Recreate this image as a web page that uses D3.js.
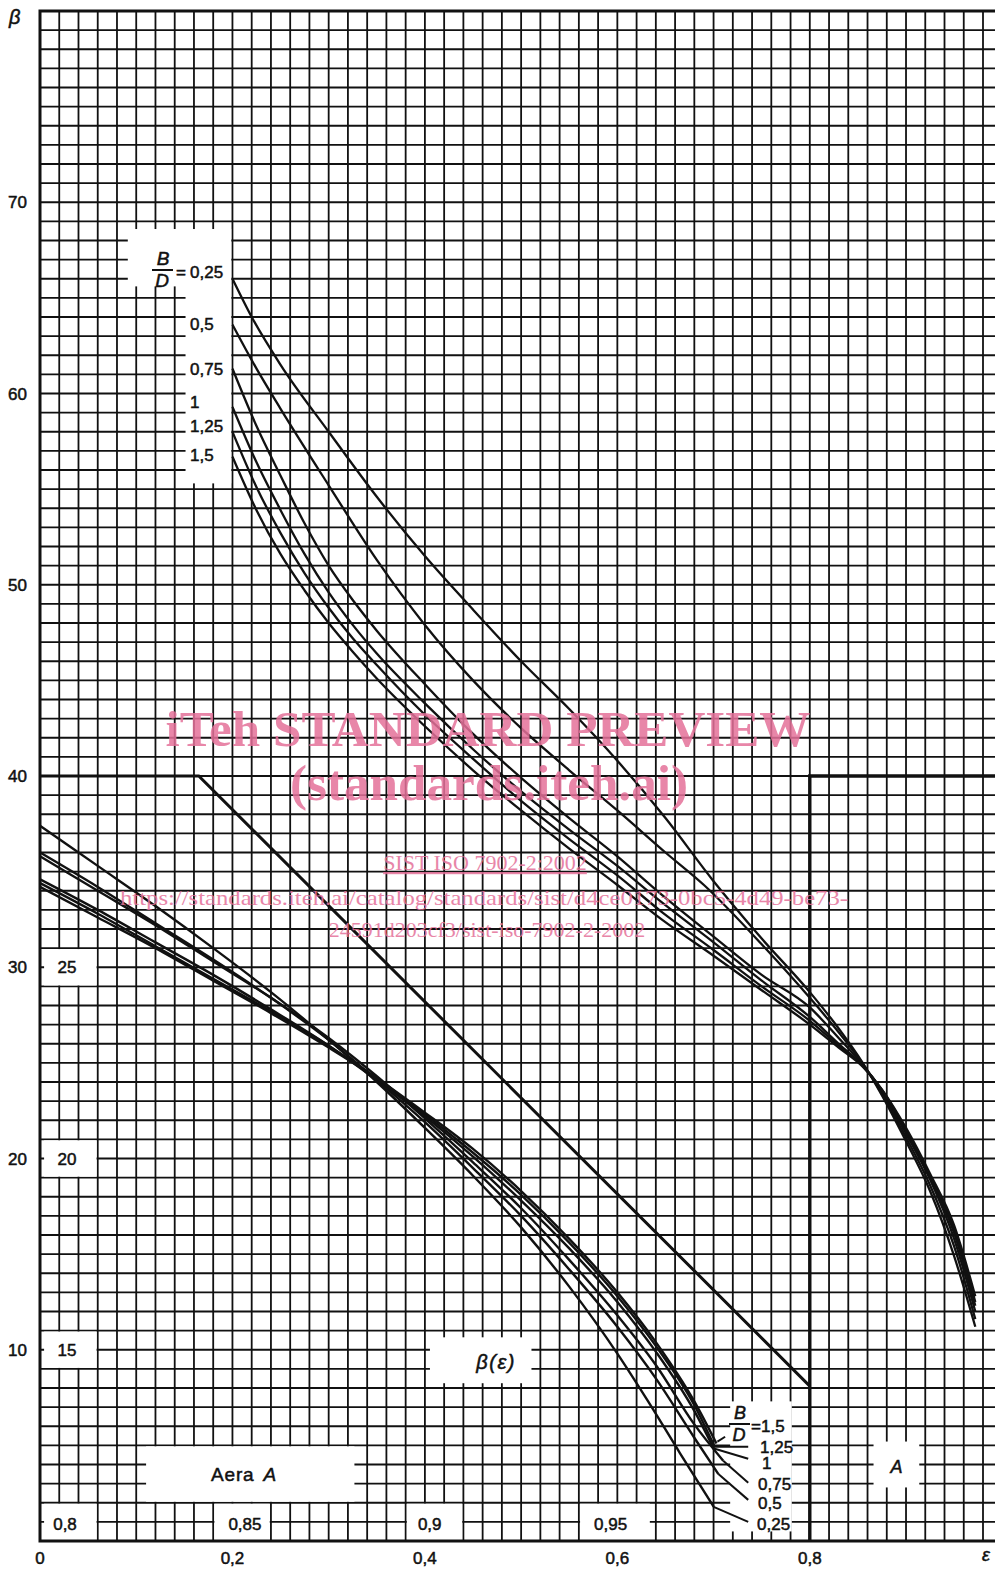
<!DOCTYPE html>
<html lang="en">
<head>
<meta charset="UTF-8">
<title>beta(epsilon)</title>
<script src="https://cdn.jsdelivr.net/npm/d3@7"></script>
<style>
  body { margin: 0; background: #fff; }
  svg { display: block; }
  text { font-family: "Liberation Sans", Arial, sans-serif; fill: #111; stroke: #111; stroke-width: 0.5; }
  text.wm { font-family: "Liberation Serif", "Times New Roman", serif; fill: #e5719a; stroke: none; }
</style>
</head>
<body>
<div id="chart"></div>
<script>
// ---- data ----
const bdLabels = ["0,25", "0,5", "0,75", "1", "1,25", "1,5"];

// beta(eps) main curves, one per B/D
const upper025 = [[0.2,66.0],[0.22,64.0],[0.25,61.5],[0.30,58.0],[0.35,54.6],[0.40,51.5],[0.45,48.7],[0.50,46.0],[0.55,43.5],[0.60,40.8],[0.65,37.8],[0.70,34.5],[0.75,31.5],[0.80,28.7],[0.83,26.8],[0.855,25.0],[0.875,23.3],[0.90,20.9],[0.925,18.3],[0.95,14.9],[0.972,11.2]];
const upper05  = [[0.2,63.6],[0.225,61.3],[0.25,59.2],[0.30,55.2],[0.35,51.3],[0.40,47.9],[0.45,45.0],[0.50,42.5],[0.55,40.3],[0.60,38.2],[0.65,36.0],[0.69,34.3],[0.75,31.2],[0.80,28.4],[0.83,26.6],[0.855,24.95],[0.875,23.4],[0.90,21.1],[0.925,18.6],[0.95,15.4],[0.972,11.6]];
const upper075 = [[0.2,61.3],[0.225,58.3],[0.25,55.7],[0.275,53.2],[0.30,51.0],[0.325,49.2],[0.35,47.6],[0.40,44.8],[0.45,42.2],[0.50,39.9],[0.55,37.8],[0.60,35.8],[0.646,33.8],[0.70,31.6],[0.75,29.6],[0.80,27.9],[0.83,26.3],[0.855,24.9],[0.875,23.5],[0.90,21.3],[0.925,18.9],[0.95,15.8],[0.972,12.0]];
const upper1   = [[0.2,59.3],[0.225,56.4],[0.25,53.9],[0.275,51.6],[0.30,49.6],[0.325,47.9],[0.35,46.4],[0.40,43.8],[0.45,41.4],[0.50,39.2],[0.55,37.2],[0.60,35.3],[0.646,33.4],[0.70,31.3],[0.75,29.3],[0.80,27.4],[0.83,26.0],[0.855,24.85],[0.875,23.55],[0.90,21.4],[0.925,19.0],[0.95,16.1],[0.972,12.3]];
const upper125 = [[0.2,58.0],[0.225,55.1],[0.25,52.7],[0.275,50.6],[0.30,48.8],[0.325,47.2],[0.35,45.8],[0.40,43.2],[0.45,40.9],[0.50,38.7],[0.55,36.7],[0.60,34.8],[0.646,32.9],[0.70,30.9],[0.75,29.0],[0.80,27.2],[0.83,25.9],[0.855,24.85],[0.875,23.6],[0.90,21.5],[0.925,19.1],[0.95,16.3],[0.972,12.5]];
const upper15  = [[0.2,56.7],[0.225,53.9],[0.25,51.6],[0.275,49.7],[0.30,48.0],[0.325,46.5],[0.35,45.1],[0.40,42.6],[0.45,40.3],[0.50,38.2],[0.55,36.2],[0.60,34.3],[0.646,32.5],[0.70,30.6],[0.75,28.8],[0.80,27.0],[0.83,25.8],[0.855,24.8],[0.875,23.6],[0.90,21.6],[0.925,19.2],[0.95,16.5],[0.972,12.8]];

// same curves in area A (enlarged scale)
const lower025 = [[0,37.4],[0.06,35.3],[0.12,33.2],[0.18,31.0],[0.24,28.7],[0.30,26.2],[0.35,24.0],[0.40,21.6],[0.45,19.1],[0.50,16.4],[0.55,13.3],[0.60,9.8],[0.632,7.3],[0.665,4.6],[0.70,1.8]];
const lower05  = [[0,36.0],[0.06,34.2],[0.12,32.3],[0.18,30.4],[0.24,28.4],[0.30,26.2],[0.35,24.1],[0.40,21.9],[0.45,19.5],[0.50,17.0],[0.55,14.2],[0.60,11.2],[0.64,8.5],[0.68,5.4],[0.705,3.5]];
const lower075 = [[0,35.8],[0.06,34.0],[0.12,32.2],[0.18,30.3],[0.24,28.4],[0.30,26.3],[0.35,24.3],[0.40,22.1],[0.45,19.8],[0.50,17.4],[0.55,14.7],[0.60,11.8],[0.64,9.2],[0.68,6.1],[0.71,4.2]];
const lower1   = [[0,34.6],[0.06,33.0],[0.12,31.3],[0.18,29.6],[0.24,27.8],[0.30,25.9],[0.35,24.1],[0.40,22.2],[0.45,20.1],[0.50,17.8],[0.55,15.3],[0.60,12.5],[0.64,9.9],[0.68,6.8],[0.70,4.85]];
const lower125 = [[0,34.4],[0.06,32.8],[0.12,31.1],[0.18,29.4],[0.24,27.7],[0.30,25.9],[0.35,24.2],[0.40,22.3],[0.45,20.3],[0.50,18.1],[0.55,15.6],[0.60,12.8],[0.64,10.2],[0.68,7.1],[0.701,4.95]];
const lower15  = [[0,34.2],[0.06,32.6],[0.12,31.0],[0.18,29.3],[0.24,27.6],[0.30,25.8],[0.35,24.2],[0.40,22.4],[0.45,20.5],[0.50,18.3],[0.55,15.8],[0.60,13.0],[0.64,10.4],[0.68,7.3],[0.703,5.1]];

// leader lines from the area-A curve ends to their labels
const lowerLeaders = [
  [[0.6995,1.8],[0.736,1.0]],
  [[0.705,3.5],[0.736,2.15]],
  [[0.71,4.2],[0.736,3.05]],
  [[0.6995,4.85],[0.736,4.3]],
  [[0.6995,4.93],[0.736,4.93]],
  [[0.704,5.2],[0.712,5.45]]
];

// boundary of area A and the A frame
const areaBoundary = [[0,40],[0.165,40],[0.8,8.1]];
const areaFrame = [[0.8,0],[0.8,40],[1.0,40]];

// axes
const xTicks = [0, 0.2, 0.4, 0.6, 0.8];
const xTickLabels = ["0", "0,2", "0,4", "0,6", "0,8"];
const yTicks = [10, 20, 30, 40, 50, 60, 70];
const areaYTicks = [30, 20, 10];
const areaYLabels = ["25", "20", "15"];
const areaXTicks = [0, 0.2, 0.4, 0.6];
const areaXLabels = ["0,8", "0,85", "0,9", "0,95"];

// ---- drawing ----
const W = 995, H = 1569;
const x = d3.scaleLinear().domain([0, 0.98]).range([40, 983]);
const y = d3.scaleLinear().domain([0, 80]).range([1541, 11]);

const svg = d3.select("#chart").append("svg")
    .attr("width", W)
    .attr("height", H);

// grid: every 0.02 in eps, every 1 in beta; it runs off the right edge of the sheet
const grid = svg.append("g").attr("stroke", "#111").attr("stroke-width", 1.8);
grid.selectAll(".gv").data(d3.range(0, 51)).enter().append("line")
    .attr("x1", i => x(i / 50)).attr("x2", i => x(i / 50))
    .attr("y1", y(0)).attr("y2", y(80));
grid.selectAll(".gh").data(d3.range(0, 81)).enter().append("line")
    .attr("x1", x(0)).attr("x2", x(1.0))
    .attr("y1", d => y(d)).attr("y2", d => y(d));

// white label fields cut out of the grid [e0, e1, b0, b1]
const fields = [
  [0.09, 0.2, 65.6, 68.6],
  [0.15, 0.2, 55.3, 65.7],
  [0.003, 0.06, 29.05, 30.95],
  [0.003, 0.06, 19.05, 20.95],
  [0.003, 0.06, 9.05, 10.95],
  [0.109, 0.328, 2.05, 4.95],
  [0.003, 0.06, 0.05, 1.95],
  [0.18, 0.24, 0.05, 1.95],
  [0.38, 0.44, 0.05, 1.95],
  [0.56, 0.635, 0.05, 1.95],
  [0.404, 0.512, 8.25, 10.65],
  [0.865, 0.915, 2.8, 5.2],
  [0.716, 0.7825, 0.5, 7.3]
];
svg.append("g").selectAll("rect").data(fields).enter().append("rect")
    .attr("x", d => x(d[0]) + 1.2)
    .attr("y", d => y(d[3]))
    .attr("width", d => x(d[1]) - x(d[0]) - 2.4)
    .attr("height", d => y(d[2]) - y(d[3]))
    .attr("fill", "#fff");

// frame: left, top and bottom edges
const straight = d3.line().x(d => x(d[0])).y(d => y(d[1]));
svg.append("path").datum([[1.0,80],[0,80],[0,0],[1.0,0]]).attr("d", straight)
    .attr("fill", "none").attr("stroke", "#111").attr("stroke-width", 3);

svg.append("path").datum(areaBoundary).attr("d", straight)
    .attr("fill", "none").attr("stroke", "#111").attr("stroke-width", 3);
svg.append("path").datum(areaFrame).attr("d", straight)
    .attr("fill", "none").attr("stroke", "#111").attr("stroke-width", 3.4);

// curves
const curve = d3.line().x(d => x(d[0])).y(d => y(d[1])).curve(d3.curveMonotoneX);
const upperCurves = [upper025, upper05, upper075, upper1, upper125, upper15];
const lowerCurves = [lower025, lower05, lower075, lower1, lower125, lower15];
svg.append("g").selectAll("path").data(upperCurves).enter().append("path")
    .attr("d", curve).attr("fill", "none").attr("stroke", "#111").attr("stroke-width", 2.3);
svg.append("g").selectAll("path").data(lowerCurves).enter().append("path")
    .attr("d", curve).attr("fill", "none").attr("stroke", "#111").attr("stroke-width", 2.4);
svg.append("g").selectAll("path").data(lowerLeaders).enter().append("path")
    .attr("d", straight).attr("fill", "none").attr("stroke", "#111").attr("stroke-width", 2);

// axis labels
svg.append("g").selectAll("text").data(yTicks).enter().append("text")
    .attr("x", 27).attr("y", d => y(d) + 6)
    .attr("text-anchor", "end").attr("font-size", 17)
    .text(d => d);
svg.append("g").selectAll("text").data(xTicks).enter().append("text")
    .attr("x", d => x(d)).attr("y", 1564)
    .attr("text-anchor", "middle").attr("font-size", 17)
    .text((d, i) => xTickLabels[i]);
svg.append("text").attr("x", 9).attr("y", 24).attr("font-size", 20)
    .attr("font-style", "italic").attr("font-family", "DejaVu Sans").text("β");
svg.append("text").attr("x", 982).attr("y", 1561).attr("font-size", 18)
    .attr("font-style", "italic").attr("font-family", "DejaVu Sans").text("ε");

// area A scales
svg.append("g").selectAll("text").data(areaYTicks).enter().append("text")
    .attr("x", x(0.028)).attr("y", d => y(d) + 6)
    .attr("text-anchor", "middle").attr("font-size", 17)
    .text((d, i) => areaYLabels[i]);
const areaXLabelAt = [0.026, 0.213, 0.405, 0.593];
svg.append("g").selectAll("text").data(areaXTicks).enter().append("text")
    .attr("x", (d, i) => x(areaXLabelAt[i])).attr("y", y(0.55))
    .attr("text-anchor", "middle").attr("font-size", 17)
    .text((d, i) => areaXLabels[i]);

const aera = svg.append("text").attr("x", x(0.212)).attr("y", y(3.15))
    .attr("text-anchor", "middle").attr("font-size", 19).attr("letter-spacing", 0.8);
aera.append("tspan").text("Aera");
aera.append("tspan").attr("dx", 9).attr("font-style", "italic").text("A");
svg.append("text").attr("x", x(0.89)).attr("y", y(3.55))
    .attr("text-anchor", "middle").attr("font-size", 18).attr("font-style", "italic").text("A");
svg.append("text").attr("x", x(0.474)).attr("y", y(9.0))
    .attr("text-anchor", "middle").attr("font-size", 20).attr("font-style", "italic")
    .attr("font-family", "DejaVu Sans").attr("letter-spacing", 1.5)
    .text("β(ε)");

// B/D labels, upper set
function fraction(cx, yTop, size) {
  const g = svg.append("g");
  g.append("text").attr("x", cx).attr("y", yTop).attr("text-anchor", "middle")
      .attr("font-size", size).attr("font-style", "italic").text("B");
  g.append("line").attr("x1", cx - 11).attr("x2", cx + 10)
      .attr("y1", yTop + 5).attr("y2", yTop + 5).attr("stroke", "#111").attr("stroke-width", 2);
  g.append("text").attr("x", cx - 1).attr("y", yTop + 22).attr("text-anchor", "middle")
      .attr("font-size", size).attr("font-style", "italic").text("D");
}
fraction(163, 265, 19);
svg.append("text").attr("x", 176).attr("y", 278).attr("font-size", 17).text("=");
const upperLabelY = [278, 330, 375, 408, 432, 461];
svg.append("g").selectAll("text").data(bdLabels).enter().append("text")
    .attr("x", 190).attr("y", (d, i) => upperLabelY[i])
    .attr("font-size", 17).text(d => d);

// B/D labels, area A set
fraction(740, 1419, 18);
svg.append("text").attr("x", 751).attr("y", 1432).attr("font-size", 17).text("=");
const lowerLabelY = [1530, 1509, 1490, 1469, 1453, 1432];
const lowerLabelX = [757, 758, 758, 762, 760, 761];
svg.append("g").selectAll("text").data(bdLabels).enter().append("text")
    .attr("x", (d, i) => lowerLabelX[i]).attr("y", (d, i) => lowerLabelY[i])
    .attr("font-size", 17).text(d => d);

// watermark
const wm = svg.append("g").attr("opacity", 0.85);
wm.append("text").attr("class", "wm").attr("x", 488).attr("y", 746)
    .attr("text-anchor", "middle").attr("font-size", 50).attr("font-weight", "bold")
    .attr("textLength", 645).attr("lengthAdjust", "spacingAndGlyphs")
    .text("iTeh STANDARD PREVIEW");
wm.append("text").attr("class", "wm").attr("x", 489).attr("y", 800)
    .attr("text-anchor", "middle").attr("font-size", 50).attr("font-weight", "bold")
    .attr("textLength", 398).attr("lengthAdjust", "spacingAndGlyphs")
    .text("(standards.iteh.ai)");
wm.append("text").attr("class", "wm").attr("x", 485).attr("y", 870)
    .attr("text-anchor", "middle").attr("font-size", 22)
    .attr("text-decoration", "underline")
    .text("SIST ISO 7902-2:2002");
wm.append("text").attr("class", "wm").attr("x", 484).attr("y", 905)
    .attr("text-anchor", "middle").attr("font-size", 22)
    .attr("textLength", 728).attr("lengthAdjust", "spacingAndGlyphs")
    .text("https://standards.iteh.ai/catalog/standards/sist/d4ce0173-0bc5-4d49-be73-");
wm.append("text").attr("class", "wm").attr("x", 487).attr("y", 937)
    .attr("text-anchor", "middle").attr("font-size", 22)
    .text("24591d203cf3/sist-iso-7902-2-2002");
</script>
</body>
</html>
